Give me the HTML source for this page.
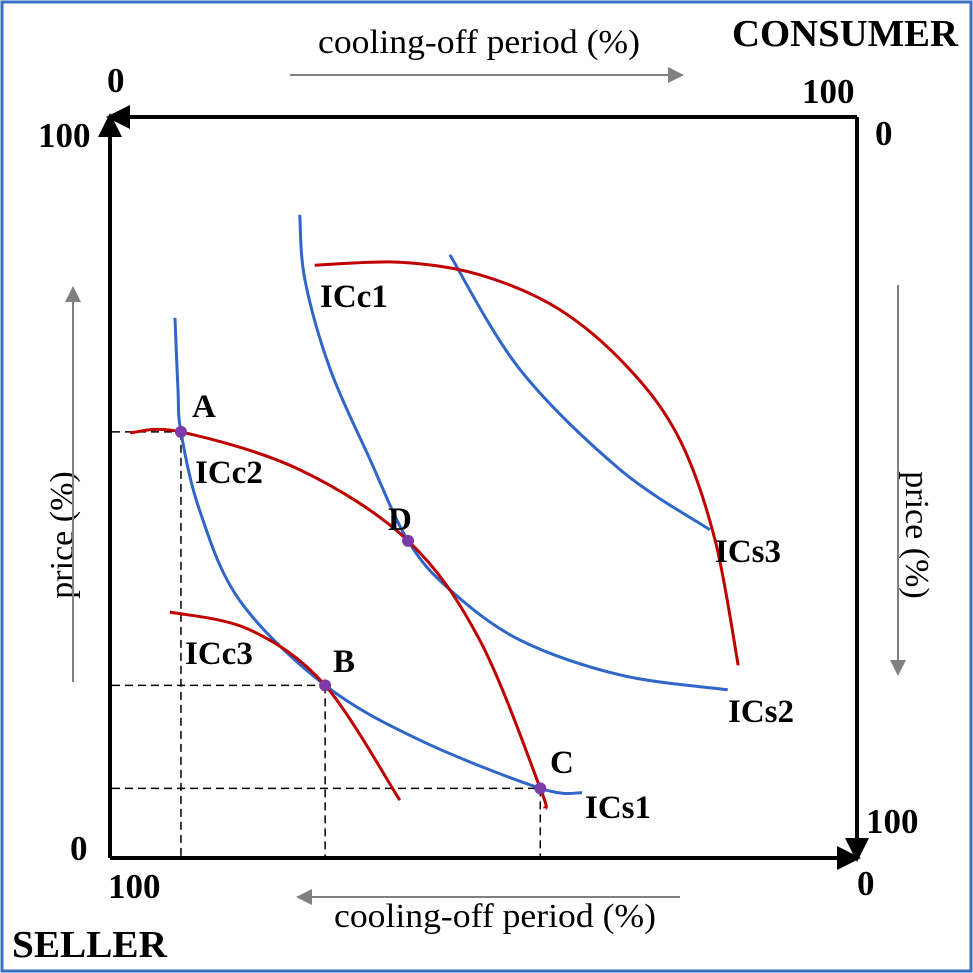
<!DOCTYPE html>
<html><head><meta charset="utf-8"><style>
html,body{margin:0;padding:0;background:#fff;}
svg{display:block;font-family:"Liberation Serif",serif;}
</style></head><body>
<svg id="chart" width="973" height="973" viewBox="0 0 973 973">
<rect x="2" y="2" width="969" height="969" fill="#fff" stroke="#3a6fc4" stroke-width="3"/>
<defs>
<marker id="blk" markerWidth="6" markerHeight="6" refX="3.5" refY="3" orient="auto" markerUnits="strokeWidth"><path d="M0,0 L6,3 L0,6 Z" fill="#000"/></marker>
<marker id="gry" markerWidth="8" markerHeight="8" refX="6" refY="4" orient="auto" markerUnits="strokeWidth"><path d="M0,0 L8,4 L0,8 Z" fill="#808080"/></marker>
</defs>
<g>
<line x1="857" y1="117" x2="116" y2="117" stroke="#000" stroke-width="4" marker-end="url(#blk)"/>
<line x1="110" y1="858" x2="110" y2="123" stroke="#000" stroke-width="4" marker-end="url(#blk)"/>
<line x1="110" y1="858" x2="851" y2="858" stroke="#000" stroke-width="4" marker-end="url(#blk)"/>
<line x1="857" y1="117" x2="857" y2="852" stroke="#000" stroke-width="4" marker-end="url(#blk)"/>
</g>
<g font-weight="bold" font-size="35" fill="#000">
<text x="107" y="92">0</text>
<text x="38" y="147">100</text>
<text x="802" y="103">100</text>
<text x="875" y="145">0</text>
<text x="732" y="46" font-size="38" textLength="226" lengthAdjust="spacingAndGlyphs">CONSUMER</text>
<text x="70" y="860">0</text>
<text x="866" y="833">100</text>
<text x="108" y="898">100</text>
<text x="857" y="895">0</text>
<text x="12" y="957" font-size="38" textLength="155" lengthAdjust="spacingAndGlyphs">SELLER</text>
</g>
<g font-size="34" fill="#000">
<text x="479" y="53" text-anchor="middle" textLength="322" lengthAdjust="spacingAndGlyphs">cooling-off period (%)</text>
<text x="495" y="927" text-anchor="middle" textLength="322" lengthAdjust="spacingAndGlyphs">cooling-off period (%)</text>
<text transform="translate(73,535) rotate(-90)" text-anchor="middle">price (%)</text>
<text transform="translate(906,535) rotate(90)" text-anchor="middle">price (%)</text>
</g>
<g stroke="#808080" stroke-width="2">
<line x1="290" y1="75" x2="680" y2="75" marker-end="url(#gry)"/>
<line x1="680" y1="897" x2="300" y2="897" marker-end="url(#gry)"/>
<line x1="73" y1="682" x2="73" y2="290" marker-end="url(#gry)"/>
<line x1="898" y1="285" x2="898" y2="672" marker-end="url(#gry)"/>
</g>
<g id="plot"></g>
</svg>
<script>
// data space: x 0..100 left->right, y 0..100 bottom->top
const curveNames = ['ICs1','ICs2','ICs3','ICc1','ICc2','ICc3'];
const ICs1X = [8.7, 9.1, 9.5, 12.0, 17.4, 28.8, 41.5, 57.6, 63.2];
const ICs1Y = [72.9, 63.2, 57.5, 46.9, 34.7, 23.3, 15.9, 9.4, 8.8];
const ICs2X = [25.4, 26.1, 29.5, 34.8, 39.9, 45.5, 54.9, 68.3, 82.7];
const ICs2Y = [86.8, 78.0, 65.9, 53.8, 42.8, 36.2, 29.4, 24.7, 22.7];
const ICs3X = [45.5, 54.9, 68.3, 80.3];
const ICs3Y = [81.4, 65.9, 52.4, 44.3];
const ICc1X = [27.4, 38.8, 49.5, 60.2, 69.6, 76.3, 81.0, 84.1];
const ICc1Y = [80.0, 80.4, 78.7, 74.0, 65.9, 56.4, 42.9, 26.0];
const ICc2X = [2.7, 9.5, 25.4, 39.9, 49.5, 57.6, 58.2];
const ICc2Y = [57.4, 57.5, 52.4, 42.8, 29.4, 9.4, 6.7];
const ICc3X = [8.0, 18.7, 28.8, 38.8];
const ICc3Y = [33.2, 30.8, 23.3, 7.8];
const pointNames = ['A','B','C','D'];
const pointX = [9.5, 28.8, 57.6, 39.9];
const pointY = [57.5, 23.3, 9.4, 42.8];

const sx = v => 110 + v * 7.47;
const sy = v => 858 - v * 7.41;
const NS = 'http://www.w3.org/2000/svg';
const plot = document.getElementById('plot');

function catmull(px, py) {
  const p = px.map((x, i) => [sx(x), sy(py[i])]);
  let d = 'M' + p[0][0] + ',' + p[0][1];
  for (let i = 0; i < p.length - 1; i++) {
    const p0 = p[i - 1] || p[i], p1 = p[i], p2 = p[i + 1], p3 = p[i + 2] || p2;
    const c1 = [p1[0] + (p2[0] - p0[0]) / 6, p1[1] + (p2[1] - p0[1]) / 6];
    const c2 = [p2[0] - (p3[0] - p1[0]) / 6, p2[1] - (p3[1] - p1[1]) / 6];
    d += ' C' + c1 + ' ' + c2 + ' ' + p2;
  }
  return d;
}
const curves = [[ICs1X,ICs1Y,'#2f66c8'],[ICs2X,ICs2Y,'#2f66c8'],[ICs3X,ICs3Y,'#2f66c8'],
                [ICc1X,ICc1Y,'#c00000'],[ICc2X,ICc2Y,'#c00000'],[ICc3X,ICc3Y,'#c00000']];
curves.forEach((c, i) => {
  const path = document.createElementNS(NS, 'path');
  path.setAttribute('d', catmull(c[0], c[1]));
  path.setAttribute('fill', 'none');
  path.setAttribute('stroke', c[2]);
  path.setAttribute('stroke-width', '3');
  
  
  plot.appendChild(path);
});
[0, 1, 2].forEach(i => {
  const x = sx(pointX[i]), y = sy(pointY[i]);
  const d = document.createElementNS(NS, 'path');
  d.setAttribute('d', 'M112,' + y + ' H' + x + ' M' + x + ',' + y + ' V856');
  d.setAttribute('stroke', '#000');
  d.setAttribute('stroke-width', '1.5');
  d.setAttribute('stroke-dasharray', '8,5');
  d.setAttribute('fill', 'none');
  
  
  plot.insertBefore(d, plot.firstChild);
});
pointNames.forEach((n, i) => {
  const c = document.createElementNS(NS, 'circle');
  c.setAttribute('cx', sx(pointX[i]));
  c.setAttribute('cy', sy(pointY[i]));
  c.setAttribute('r', '6');
  c.setAttribute('fill', '#7a3aa8');
  
  
  plot.appendChild(c);
});
const labelText = ['A','B','C','D','ICc1','ICc2','ICc3','ICs1','ICs2','ICs3'];
const labelPos = [[192,417],[333,672],[550,773],[388,530],[320,307],[195,483],[185,664],[585,818],[728,722],[715,562]];
labelText.forEach((t, i) => {
  const tx = document.createElementNS(NS, 'text');
  tx.setAttribute('x', labelPos[i][0]);
  tx.setAttribute('y', labelPos[i][1]);
  tx.setAttribute('font-weight', 'bold');
  tx.setAttribute('font-size', '33');
  tx.textContent = t;
  
  
  plot.appendChild(tx);
});
</script>
</body></html>
